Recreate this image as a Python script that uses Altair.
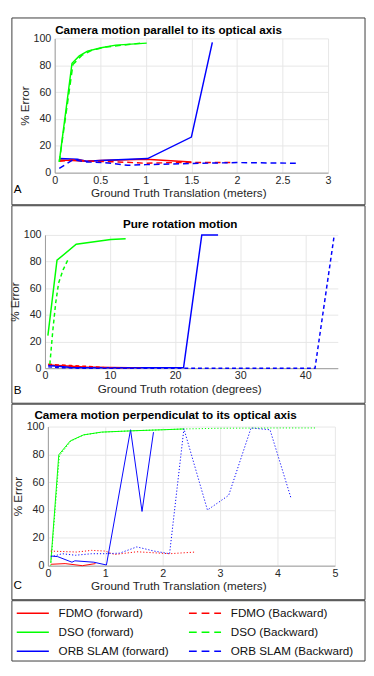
import altair as alt
import pandas as pd

FONT = "Liberation Sans, Arial, Helvetica, sans-serif"

methods = ["FDMO", "DSO", "ORB SLAM"]
colors = ["#ff0000", "#00ff00", "#0000ff"]
directions = ["forward", "Backward"]

# ---------------- Panel A : camera motion parallel to optical axis ----------------
a_fdmo_f_x = [0.05, 0.2, 0.35, 0.5, 1.0, 1.5]
a_fdmo_f_y = [9.5, 9.0, 8.5, 9.0, 10.0, 8.0]
a_fdmo_b_x = [0.05, 0.2, 0.4, 0.7, 1.0, 1.3, 1.6, 1.95]
a_fdmo_b_y = [8.5, 9.5, 8.5, 8.0, 7.0, 7.5, 7.5, 7.5]
a_dso_f_x = [0.05, 0.19, 0.27, 0.36, 0.51, 0.67, 1.01]
a_dso_f_y = [8.0, 81.5, 87.0, 90.5, 93.0, 95.0, 96.5]
a_dso_b_x = [0.05, 0.2, 0.3, 0.4, 0.55, 0.75, 0.95]
a_dso_b_y = [8.0, 80.5, 87.5, 91.0, 93.5, 95.0, 96.5]
a_orb_f_x = [0.05, 0.25, 0.35, 0.5, 1.02, 1.5, 1.73]
a_orb_f_y = [10.5, 10.0, 8.5, 9.0, 10.5, 26.5, 97.0]
a_orb_b_x = [0.05, 0.2, 0.35, 0.55, 0.8, 1.0, 1.3, 1.6, 2.0, 2.67]
a_orb_b_y = [3.2, 9.5, 8.0, 7.5, 5.5, 6.0, 6.5, 7.0, 7.5, 7.0]

# ---------------- Panel B : pure rotation ----------------
b_fdmo_f_x = [0.5, 2, 4, 6, 10, 13]
b_fdmo_f_y = [2.5, 2.0, 1.5, 1.0, 0.5, 0.3]
b_fdmo_b_x = [0.5, 2, 4, 6, 9, 12, 15]
b_fdmo_b_y = [3.0, 2.5, 2.0, 1.5, 0.5, 0.0, 0.0]
b_dso_f_x = [0.45, 1.85, 4.8, 10.1, 12.4]
b_dso_f_y = [24.5, 81.0, 93.0, 96.5, 97.2]
b_dso_b_x = [0.75, 1.2, 1.65, 2.1, 2.8, 3.6]
b_dso_b_y = [3.0, 28.0, 49.0, 64.0, 74.0, 82.0]
b_orb_f_x = [0.5, 2, 4, 8, 14, 21.3, 24.1, 26.6]
b_orb_f_y = [2.0, 1.5, 0.5, 0.3, 0.3, 0.5, 100.0, 100.0]
b_orb_b_x = [0.5, 2, 5, 10, 20, 30, 41.5, 44.4]
b_orb_b_y = [1.0, 0.5, 0.0, 0.0, 0.0, 0.0, 0.0, 98.0]

# ---------------- Panel C : camera motion perpendicular to optical axis ----------------
c_fdmo_f_x = [0.05, 0.3, 0.6, 0.83]
c_fdmo_f_y = [1.0, 1.5, 0.0, 1.5]
c_fdmo_b_x = [0.05, 0.5, 0.76, 1.0, 1.16, 1.55, 2.12, 2.57]
c_fdmo_b_y = [10.5, 9.8, 11.0, 10.5, 8.0, 10.0, 8.6, 9.8]
c_dso_f_x = [0.05, 0.19, 0.39, 0.62, 0.93, 1.5, 2.0, 2.37]
c_dso_f_y = [2.0, 79.7, 89.7, 94.0, 96.0, 97.0, 97.7, 98.3]
c_dso_b_x = [0.05, 0.2, 0.4, 0.62, 0.95, 1.5, 2.4, 3.0, 4.0, 4.67]
c_dso_b_y = [0.0, 79.0, 89.5, 94.0, 96.0, 97.0, 98.3, 98.8, 99.0, 99.0]
c_orb_f_x = [0.05, 0.17, 0.42, 0.47, 0.8, 1.02, 1.44, 1.64, 1.84]
c_orb_f_y = [7.0, 6.5, 2.5, 3.5, 2.5, 0.5, 97.7, 39.0, 96.0]
c_orb_b_x = [0.05, 0.25, 0.48, 0.76, 0.99, 1.25, 1.55, 1.85, 2.12, 2.37, 2.78, 3.15, 3.54, 3.87, 4.24]
c_orb_b_y = [6.3, 8.6, 7.5, 8.6, 8.6, 9.0, 13.5, 10.5, 8.6, 98.4, 40.0, 50.6, 99.0, 97.7, 48.0]

y_ticks = [0, 20, 40, 60, 80, 100]
a_ticks = [0, 0.5, 1, 1.5, 2, 2.5, 3]
b_ticks = [0, 10, 20, 30, 40]
c_ticks = [0, 1, 2, 3, 4, 5]

legend_labels = {
    ("FDMO", "forward"): "FDMO (forward)",
    ("FDMO", "Backward"): "FDMO (Backward)",
    ("DSO", "forward"): "DSO (forward)",
    ("DSO", "Backward"): "DSO (Backward)",
    ("ORB SLAM", "forward"): "ORB SLAM (forward)",
    ("ORB SLAM", "Backward"): "ORB SLAM (Backward)",
}


def long_table(series):
    rows = []
    for (m, d), (xs, ys) in series.items():
        for xv, yv in zip(xs, ys):
            rows.append({"method": m, "direction": d, "x": xv, "y": yv})
    return pd.DataFrame(rows)


dfA = long_table({
    ("FDMO", "forward"): (a_fdmo_f_x, a_fdmo_f_y),
    ("FDMO", "Backward"): (a_fdmo_b_x, a_fdmo_b_y),
    ("ORB SLAM", "forward"): (a_orb_f_x, a_orb_f_y),
    ("ORB SLAM", "Backward"): (a_orb_b_x, a_orb_b_y),
    ("DSO", "forward"): (a_dso_f_x, a_dso_f_y),
    ("DSO", "Backward"): (a_dso_b_x, a_dso_b_y),
})
dfB = long_table({
    ("FDMO", "forward"): (b_fdmo_f_x, b_fdmo_f_y),
    ("FDMO", "Backward"): (b_fdmo_b_x, b_fdmo_b_y),
    ("ORB SLAM", "forward"): (b_orb_f_x, b_orb_f_y),
    ("ORB SLAM", "Backward"): (b_orb_b_x, b_orb_b_y),
    ("DSO", "forward"): (b_dso_f_x, b_dso_f_y),
    ("DSO", "Backward"): (b_dso_b_x, b_dso_b_y),
})
dfC = long_table({
    ("FDMO", "forward"): (c_fdmo_f_x, c_fdmo_f_y),
    ("FDMO", "Backward"): (c_fdmo_b_x, c_fdmo_b_y),
    ("DSO", "forward"): (c_dso_f_x, c_dso_f_y),
    ("DSO", "Backward"): (c_dso_b_x, c_dso_b_y),
    ("ORB SLAM", "forward"): (c_orb_f_x, c_orb_f_y),
    ("ORB SLAM", "Backward"): (c_orb_b_x, c_orb_b_y),
})

# layout (pixels)
VW = 301          # common view width
BOX_L = 34        # box left edge, left of view origin
BOX_R = 28        # box right edge, right of view
BORDER = "#3a3a3a"

color_enc = alt.Color("method:N", scale=alt.Scale(domain=methods, range=colors), legend=None)


def panel(df, xdom, xrng, xticks, xtitle, title, title_x, title_y,
          letter, letter_y, top, h, bottom, sw, dash, yoff, xtitle_x):
    x_enc = alt.X("x:Q",
                  scale=alt.Scale(domain=xdom, range=xrng, nice=False, zero=False),
                  axis=alt.Axis(values=xticks, format=".1~f", title=xtitle, grid=True,
                                ticks=False, labelFlush=False, labelOverlap=False,
                                titleX=xtitle_x))
    y_enc = alt.Y("y:Q",
                  scale=alt.Scale(domain=[0, 100], nice=False),
                  axis=alt.Axis(values=y_ticks, title="% Error", grid=True, ticks=False,
                                labelFlush=False, labelOverlap=False, offset=yoff))
    base = alt.Chart(df)
    fwd = base.transform_filter(alt.datum.direction == "forward").mark_line(
        strokeWidth=sw).encode(x=x_enc, y=y_enc, color=color_enc)
    bwd = base.transform_filter(alt.datum.direction == "Backward").mark_line(
        strokeWidth=sw, strokeDash=dash).encode(x=x_enc, y=y_enc, color=color_enc)
    box = alt.Chart(pd.DataFrame({"k": [0]})).mark_rect(
        filled=False, stroke=BORDER, strokeWidth=1).encode(
        x=alt.value(-BOX_L), x2=alt.value(VW + BOX_R),
        y=alt.value(-top), y2=alt.value(h + bottom))
    ttl = alt.Chart(pd.DataFrame({"t": [title]})).mark_text(
        font=FONT, fontSize=12, fontWeight="bold", color="#000000",
        align="center", baseline="middle").encode(
        x=alt.value(title_x), y=alt.value(title_y), text="t:N")
    let = alt.Chart(pd.DataFrame({"t": [letter]})).mark_text(
        font=FONT, fontSize=12, color="#000000", align="center",
        baseline="middle").encode(
        x=alt.value(-28), y=alt.value(letter_y), text="t:N")
    return alt.layer(box, fwd, bwd, ttl, let).properties(width=VW, height=h)


pA = panel(dfA, [0, 3], [10, 291], a_ticks, "Ground Truth Translation (meters)",
           "Camera motion parallel to its optical axis", 127, -9,
           "A", 155, 21, 138, 33, 1.5, [6, 4], -10, 137)
pB = panel(dfB, [0, 45], [0, 301], b_ticks, "Ground Truth rotation (degrees)",
           "Pure rotation motion", 139, -11,
           "B", 160, 30, 137, 36, 1.5, [4, 3], 0, 138)
pC = panel(dfC, [0, 5], [3, 298], c_ticks, "Ground Truth Translation (meters)",
           "Camera motion perpendiculat to its optical axis", 124, -12,
           "C", 163, 23, 143, 35, 1.0, [1.2, 2], -3, 137)

# ---------------- legend panel ----------------
LH = 62
leg_rows = []
for m in methods:
    for d in directions:
        leg_rows.append({"method": m, "direction": d, "label": legend_labels[(m, d)]})
legdf = pd.DataFrame(leg_rows)

lx = alt.X("direction:N", scale=alt.Scale(type="point", domain=directions, range=[-29, 148], padding=0), axis=None)
lx2 = alt.X2("direction:N")
ly = alt.Y("method:N", scale=alt.Scale(type="point", domain=methods, range=[13, 52], padding=0), axis=None)

lbase = alt.Chart(legdf)
leg_f = lbase.transform_filter(alt.datum.direction == "forward").mark_rule(
    strokeWidth=1.5, x2Offset=33).encode(x=lx, x2=lx2, y=ly, color=color_enc)
leg_b = lbase.transform_filter(alt.datum.direction == "Backward").mark_rule(
    strokeWidth=1.5, x2Offset=33, strokeDash=[8, 5]).encode(x=lx, x2=lx2, y=ly, color=color_enc)
leg_t = lbase.mark_text(font=FONT, fontSize=12, color="#111111", align="left",
                        baseline="middle", dx=43).encode(x=lx, y=ly, text="label:N")
leg_box = alt.Chart(pd.DataFrame({"k": [0]})).mark_rect(
    filled=False, stroke=BORDER, strokeWidth=1).encode(
    x=alt.value(-BOX_L), x2=alt.value(VW + BOX_R), y=alt.value(0), y2=alt.value(LH))
pL = alt.layer(leg_box, leg_f, leg_b, leg_t).properties(width=VW, height=LH)

chart = alt.vconcat(pA, pB, pC, pL, spacing=-1).properties(
    padding=0, background="white"
).configure_view(stroke="transparent").configure_axis(
    labelFont=FONT, titleFont=FONT, labelFontSize=11, titleFontSize=12,
    labelColor="#262626", titleColor="#262626", titleFontWeight="normal",
    gridColor="#e6e6e6", domainColor="#9a9a9a",
).configure_axisX(labelPadding=2, titlePadding=3).configure_axisY(
    labelPadding=4, titlePadding=2)

chart.save("out.html", embed_options={"renderer": "svg", "actions": False})
